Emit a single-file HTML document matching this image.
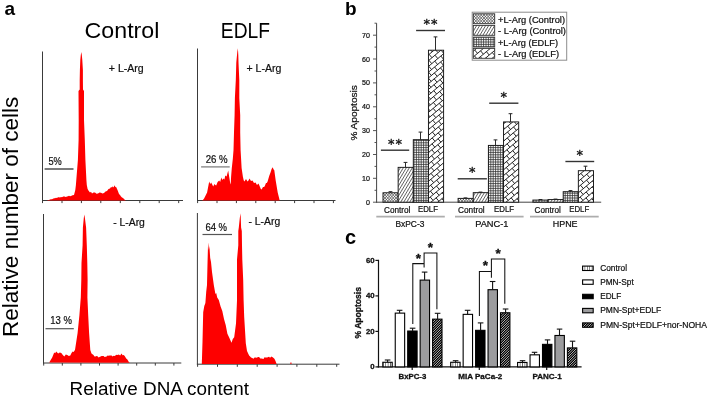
<!DOCTYPE html>
<html lang="en"><head><meta charset="utf-8"><title>Figure</title>
<style>
html,body{margin:0;padding:0;background:#fff;}
body{width:708px;height:397px;overflow:hidden;}
svg{display:block;will-change:transform;font-family:"Liberation Sans",sans-serif;}
</style></head><body>
<svg width="708" height="397" viewBox="0 0 708 397">
<defs>
<pattern id="pX" width="11" height="3" patternUnits="userSpaceOnUse"><rect width="11" height="3" fill="#fff"/><path d="M0.000 0L2.750 3M0.000 3L2.750 0M2.750 0L5.500 3M2.750 3L5.500 0M5.500 0L8.250 3M5.500 3L8.250 0M8.250 0L11.000 3M8.250 3L11.000 0" stroke="#333" stroke-width="0.65"/></pattern>
<pattern id="pD" width="6" height="5" patternUnits="userSpaceOnUse"><rect width="6" height="5" fill="#fff"/><path d="M-3 5L0 0M0 5L3 0M3 5L6 0M6 5L9 0M-0.3 0.5L0 0M6 5L6.3 4.5" stroke="#2e2e2e" stroke-width="0.75"/></pattern>
<pattern id="pG" width="12" height="12" patternUnits="userSpaceOnUse"><rect width="12" height="12" fill="#fff"/><path d="M0 1.2H12M1.2 0V12M0 3.6H12M3.6 0V12M0 6.0H12M6.0 0V12M0 8.4H12M8.4 0V12M0 10.8H12M10.8 0V12" stroke="#2a2a2a" stroke-width="0.75"/></pattern>
<pattern id="pZ" width="7.9" height="8.8" patternUnits="userSpaceOnUse" patternTransform="rotate(-40) translate(1.5 1)"><rect width="7.9" height="8.8" fill="#fff"/><path d="M0 0.5H7.9M0 4.9H7.9M1 0.5V4.9M4.95 4.9V9.3M4.95 -3.9V0.5" stroke="#1a1a1a" stroke-width="0.95" fill="none"/></pattern>
<pattern id="cV" width="2.4" height="10" x="0.5" patternUnits="userSpaceOnUse"><rect width="2.4" height="10" fill="#fff"/><path d="M1.2 0V10" stroke="#555" stroke-width="0.8"/></pattern>
<pattern id="cH" width="5" height="5" patternUnits="userSpaceOnUse"><rect width="5" height="5" fill="#000"/><path d="M-2.5 2.5L2.5 -2.5M-2.5 5L5 -2.5M0 5L5 0M0 7.5L7.5 0M2.5 7.5L7.5 2.5" stroke="#fff" stroke-width="0.7"/></pattern>
</defs>
<rect x="0" y="0" width="708" height="397" fill="#fff"/>
<g id="panel-a">
<line x1="42.5" y1="51.5" x2="42.5" y2="201.0" stroke="#3a3a3a" stroke-width="1" /><line x1="42.0" y1="200.5" x2="183.0" y2="200.5" stroke="#3a3a3a" stroke-width="1" /><line x1="42.5" y1="200.5" x2="42.5" y2="203.1" stroke="#3a3a3a" stroke-width="1" /><line x1="62.0" y1="200.5" x2="62.0" y2="203.1" stroke="#3a3a3a" stroke-width="1" /><line x1="81.4" y1="200.5" x2="81.4" y2="203.1" stroke="#3a3a3a" stroke-width="1" /><line x1="100.8" y1="200.5" x2="100.8" y2="203.1" stroke="#3a3a3a" stroke-width="1" /><line x1="120.3" y1="200.5" x2="120.3" y2="203.1" stroke="#3a3a3a" stroke-width="1" /><line x1="139.8" y1="200.5" x2="139.8" y2="203.1" stroke="#3a3a3a" stroke-width="1" /><line x1="159.2" y1="200.5" x2="159.2" y2="203.1" stroke="#3a3a3a" stroke-width="1" /><line x1="178.7" y1="200.5" x2="178.7" y2="203.1" stroke="#3a3a3a" stroke-width="1" />
<polygon points="47.0,200.5 48.0,200.0 49.0,199.9 50.0,199.6 51.0,199.3 52.0,199.2 53.0,198.8 54.0,198.3 55.0,198.3 56.0,197.7 57.0,198.0 58.0,197.2 59.0,197.2 60.0,197.5 61.0,197.1 62.0,197.3 63.2,196.6 64.5,196.4 65.8,196.9 67.0,196.6 68.0,196.2 69.0,195.8 70.0,196.2 71.0,196.0 72.5,195.2 74.0,195.0 75.3,190.0 75.9,185.0 76.3,180.0 77.9,160.0 78.6,140.0 78.7,120.0 78.5,91.0 79.7,89.5 79.7,80.0 79.9,70.0 80.3,60.0 80.8,55.0 81.3,52.0 81.8,55.0 82.3,60.0 82.9,70.0 82.9,80.0 83.0,89.5 84.0,91.0 84.0,120.0 84.8,140.0 85.4,160.0 86.4,180.0 86.8,185.0 87.6,189.0 88.6,190.8 90.0,192.5 91.0,191.8 92.0,193.4 93.5,192.4 95.0,192.6 96.5,193.8 98.0,193.6 99.5,192.6 101.0,192.8 102.5,193.4 104.0,193.0 105.5,191.6 107.0,191.0 108.5,189.0 110.0,188.5 111.0,187.0 112.0,187.4 112.8,186.2 113.5,187.6 114.7,185.3 115.4,187.2 116.0,186.8 117.5,190.0 119.0,194.0 120.0,195.1 121.0,196.5 122.0,197.5 123.0,197.9 124.0,199.1 125.0,200.1 126.0,200.5" fill="#fe0000"/>
<line x1="44.6" y1="169.0" x2="73.5" y2="169.0" stroke="#333" stroke-width="1.3" />
<text x="48.5" y="164.8" font-size="10.50" textLength="13.3" lengthAdjust="spacingAndGlyphs" fill="#111" stroke="#111" stroke-width="0.22">5%</text>
<text x="108.8" y="72.0" font-size="10.50" textLength="34.9" lengthAdjust="spacingAndGlyphs" fill="#111" stroke="#111" stroke-width="0.22">+ L-Arg</text>
<line x1="197.5" y1="48.5" x2="197.5" y2="201.0" stroke="#3a3a3a" stroke-width="1" /><line x1="197.0" y1="200.5" x2="335.5" y2="200.5" stroke="#3a3a3a" stroke-width="1" /><line x1="197.6" y1="200.5" x2="197.6" y2="203.1" stroke="#3a3a3a" stroke-width="1" /><line x1="217.0" y1="200.5" x2="217.0" y2="203.1" stroke="#3a3a3a" stroke-width="1" /><line x1="236.4" y1="200.5" x2="236.4" y2="203.1" stroke="#3a3a3a" stroke-width="1" /><line x1="255.8" y1="200.5" x2="255.8" y2="203.1" stroke="#3a3a3a" stroke-width="1" /><line x1="275.2" y1="200.5" x2="275.2" y2="203.1" stroke="#3a3a3a" stroke-width="1" /><line x1="294.6" y1="200.5" x2="294.6" y2="203.1" stroke="#3a3a3a" stroke-width="1" /><line x1="314.0" y1="200.5" x2="314.0" y2="203.1" stroke="#3a3a3a" stroke-width="1" /><line x1="333.4" y1="200.5" x2="333.4" y2="203.1" stroke="#3a3a3a" stroke-width="1" />
<polygon points="202.1,200.6 203.1,199.7 204.1,198.5 207.1,192.5 209.2,181.4 210.2,184.0 211.2,182.4 213.2,186.5 214.5,184.0 215.3,185.1 216.2,185.4 217.6,182.0 219.2,180.4 220.2,182.0 221.3,177.4 222.3,180.0 223.3,178.4 224.4,179.5 225.3,175.4 226.6,176.5 228.2,170.6 229.3,177.4 230.2,183.0 230.7,184.6 231.1,176.7 231.8,168.0 232.8,159.0 233.5,150.3 234.0,132.6 234.6,115.0 234.9,97.9 235.8,80.3 236.3,62.6 237.3,52.0 237.9,48.2 238.3,55.0 238.5,62.6 239.3,80.3 239.3,97.9 240.2,115.0 240.2,132.6 240.6,150.3 241.1,159.0 241.6,168.0 242.9,176.7 243.7,180.3 244.4,181.4 246.0,179.0 247.5,181.4 248.5,180.4 249.5,178.4 251.0,181.0 252.5,180.4 254.0,183.0 255.5,182.4 257.0,185.0 258.5,183.4 260.0,187.0 260.8,189.0 261.6,189.5 263.0,187.0 263.8,187.1 264.6,186.5 266.0,183.0 266.8,182.9 267.6,181.4 269.2,176.0 270.6,172.3 271.6,169.0 272.7,167.3 273.6,169.5 274.3,170.3 275.7,180.4 277.7,192.5 279.7,200.5" fill="#fe0000"/>
<line x1="201.1" y1="166.9" x2="229.7" y2="166.9" stroke="#777" stroke-width="1.2" />
<text x="205.7" y="162.7" font-size="10.50" textLength="22.0" lengthAdjust="spacingAndGlyphs" fill="#111" stroke="#111" stroke-width="0.22">26 %</text>
<text x="246.5" y="72.0" font-size="10.50" textLength="34.9" lengthAdjust="spacingAndGlyphs" fill="#111" stroke="#111" stroke-width="0.22">+ L-Arg</text>
<line x1="43.5" y1="214.0" x2="43.5" y2="363.5" stroke="#3a3a3a" stroke-width="1" /><line x1="43.0" y1="363.0" x2="181.3" y2="363.0" stroke="#3a3a3a" stroke-width="1" /><line x1="43.7" y1="363.0" x2="43.7" y2="365.6" stroke="#3a3a3a" stroke-width="1" /><line x1="62.3" y1="363.0" x2="62.3" y2="365.6" stroke="#3a3a3a" stroke-width="1" /><line x1="80.9" y1="363.0" x2="80.9" y2="365.6" stroke="#3a3a3a" stroke-width="1" /><line x1="99.5" y1="363.0" x2="99.5" y2="365.6" stroke="#3a3a3a" stroke-width="1" /><line x1="118.1" y1="363.0" x2="118.1" y2="365.6" stroke="#3a3a3a" stroke-width="1" /><line x1="136.7" y1="363.0" x2="136.7" y2="365.6" stroke="#3a3a3a" stroke-width="1" /><line x1="155.3" y1="363.0" x2="155.3" y2="365.6" stroke="#3a3a3a" stroke-width="1" /><line x1="173.9" y1="363.0" x2="173.9" y2="365.6" stroke="#3a3a3a" stroke-width="1" />
<polygon points="49.2,362.4 52.2,357.5 54.2,352.5 55.2,353.2 56.2,351.5 57.4,352.8 58.2,353.5 59.8,352.5 61.3,352.9 62.8,355.0 64.3,356.5 65.8,354.6 67.3,354.9 68.8,356.0 70.3,355.5 71.5,353.0 72.7,351.5 73.7,352.0 74.4,350.8 75.0,350.0 77.6,332.9 79.4,315.3 80.8,297.6 81.3,280.0 81.5,263.0 82.6,245.3 82.9,227.6 83.8,218.0 84.3,214.4 84.9,218.0 86.1,227.6 86.8,245.3 87.3,263.0 87.6,280.0 87.4,297.6 88.2,315.3 89.1,332.9 90.3,350.0 91.5,353.5 92.5,354.3 93.5,355.0 94.5,356.5 95.5,356.5 96.5,356.0 97.5,356.2 98.5,357.5 99.5,357.0 100.6,356.4 101.6,356.1 102.6,356.1 103.6,355.9 104.6,357.0 105.6,356.8 106.6,356.5 107.6,355.5 108.6,355.8 109.6,355.6 110.6,355.5 111.6,355.4 112.6,356.6 113.7,355.8 114.7,356.1 115.7,355.3 116.7,354.8 117.7,355.1 118.7,354.5 120.2,355.5 121.5,353.4 122.6,355.2 123.7,355.1 124.7,356.1 126.2,358.6 127.4,359.6 128.5,361.6 129.7,362.8" fill="#fe0000"/>
<line x1="45.5" y1="328.7" x2="73.8" y2="328.7" stroke="#555" stroke-width="1.2" />
<text x="50.2" y="324.3" font-size="10.50" textLength="21.7" lengthAdjust="spacingAndGlyphs" fill="#111" stroke="#111" stroke-width="0.22">13 %</text>
<text x="113.2" y="225.7" font-size="10.50" textLength="31.7" lengthAdjust="spacingAndGlyphs" fill="#111" stroke="#111" stroke-width="0.22">- L-Arg</text>
<line x1="197.4" y1="213.0" x2="197.4" y2="364.7" stroke="#3a3a3a" stroke-width="1" /><line x1="196.9" y1="364.2" x2="339.5" y2="364.2" stroke="#3a3a3a" stroke-width="1" /><line x1="197.6" y1="364.2" x2="197.6" y2="366.8" stroke="#3a3a3a" stroke-width="1" /><line x1="217.5" y1="364.2" x2="217.5" y2="366.8" stroke="#3a3a3a" stroke-width="1" /><line x1="237.3" y1="364.2" x2="237.3" y2="366.8" stroke="#3a3a3a" stroke-width="1" /><line x1="257.2" y1="364.2" x2="257.2" y2="366.8" stroke="#3a3a3a" stroke-width="1" /><line x1="277.1" y1="364.2" x2="277.1" y2="366.8" stroke="#3a3a3a" stroke-width="1" /><line x1="296.9" y1="364.2" x2="296.9" y2="366.8" stroke="#3a3a3a" stroke-width="1" /><line x1="316.8" y1="364.2" x2="316.8" y2="366.8" stroke="#3a3a3a" stroke-width="1" /><line x1="336.7" y1="364.2" x2="336.7" y2="366.8" stroke="#3a3a3a" stroke-width="1" />
<polygon points="201.8,364.0 202.5,341.7 203.2,312.2 204.3,306.0 205.4,303.1 206.2,292.0 207.0,285.0 207.6,260.0 208.1,242.4 208.9,250.0 209.4,246.0 210.2,258.0 211.0,262.0 212.0,272.0 213.8,285.0 215.4,294.0 216.2,293.0 217.2,297.5 218.8,300.0 220.6,306.5 222.3,311.0 224.0,319.0 225.7,325.0 227.4,333.8 229.4,338.0 231.5,342.8 232.8,339.0 234.2,337.2 236.0,323.5 237.0,300.6 237.0,280.0 237.0,259.4 238.3,245.3 238.3,231.0 238.8,227.6 239.8,218.0 240.6,213.2 241.1,227.6 241.8,231.0 242.0,245.3 242.3,259.4 243.2,280.0 243.6,300.0 244.2,317.0 245.8,343.2 247.0,351.0 249.1,355.4 250.1,356.4 251.0,357.6 252.2,357.9 253.5,358.7 254.5,357.5 255.5,357.4 256.8,357.8 258.0,357.1 259.1,357.0 260.3,358.4 261.5,358.6 262.6,358.7 263.5,359.0 264.5,357.3 265.4,357.6 266.3,357.5 267.3,357.5 268.2,357.1 269.1,356.7 270.0,357.8 271.6,356.4 273.0,357.6 274.4,358.7 275.5,361.0 276.6,364.0" fill="#fe0000"/>
<rect x="290.2" y="362.6" width="1.4" height="1.2" fill="#fe0000"/>
<line x1="202.5" y1="234.5" x2="232.0" y2="234.5" stroke="#555" stroke-width="1.2" />
<text x="205.4" y="230.5" font-size="10.50" textLength="21.7" lengthAdjust="spacingAndGlyphs" fill="#111" stroke="#111" stroke-width="0.22">64 %</text>
<text x="248.5" y="225.4" font-size="10.50" textLength="31.7" lengthAdjust="spacingAndGlyphs" fill="#111" stroke="#111" stroke-width="0.22">- L-Arg</text>
<text x="84.6" y="38.1" font-size="22.50" textLength="74.8" lengthAdjust="spacingAndGlyphs" fill="#000" >Control</text>
<text x="220.8" y="38.1" font-size="21.30" textLength="49.2" lengthAdjust="spacingAndGlyphs" fill="#000" >EDLF</text>
<text x="69.6" y="394.8" font-size="18.30" textLength="179.4" lengthAdjust="spacingAndGlyphs" fill="#000" >Relative DNA content</text>
<text x="18.1" y="337.0" font-size="21.30" textLength="240.4" lengthAdjust="spacingAndGlyphs" transform="rotate(-90 18.1 337.0)" fill="#000" >Relative number of cells</text>
<text x="4.6" y="15.4" font-size="19.00" font-weight="bold" fill="#000" >a</text>
</g>
<g id="panel-b">
<text x="345.0" y="15.3" font-size="19.00" font-weight="bold" fill="#000" >b</text>
<line x1="376.6" y1="23.2" x2="376.6" y2="202.7" stroke="#444" stroke-width="1" />
<line x1="373.0" y1="202.2" x2="376.6" y2="202.2" stroke="#444" stroke-width="0.9" />
<line x1="374.5" y1="190.3" x2="376.6" y2="190.3" stroke="#444" stroke-width="0.9" />
<line x1="373.0" y1="178.3" x2="376.6" y2="178.3" stroke="#444" stroke-width="0.9" />
<line x1="374.5" y1="166.4" x2="376.6" y2="166.4" stroke="#444" stroke-width="0.9" />
<line x1="373.0" y1="154.5" x2="376.6" y2="154.5" stroke="#444" stroke-width="0.9" />
<line x1="374.5" y1="142.5" x2="376.6" y2="142.5" stroke="#444" stroke-width="0.9" />
<line x1="373.0" y1="130.6" x2="376.6" y2="130.6" stroke="#444" stroke-width="0.9" />
<line x1="374.5" y1="118.7" x2="376.6" y2="118.7" stroke="#444" stroke-width="0.9" />
<line x1="373.0" y1="106.8" x2="376.6" y2="106.8" stroke="#444" stroke-width="0.9" />
<line x1="374.5" y1="94.8" x2="376.6" y2="94.8" stroke="#444" stroke-width="0.9" />
<line x1="373.0" y1="82.9" x2="376.6" y2="82.9" stroke="#444" stroke-width="0.9" />
<line x1="374.5" y1="71.0" x2="376.6" y2="71.0" stroke="#444" stroke-width="0.9" />
<line x1="373.0" y1="59.0" x2="376.6" y2="59.0" stroke="#444" stroke-width="0.9" />
<line x1="374.5" y1="47.1" x2="376.6" y2="47.1" stroke="#444" stroke-width="0.9" />
<line x1="373.0" y1="35.2" x2="376.6" y2="35.2" stroke="#444" stroke-width="0.9" />
<line x1="374.5" y1="23.2" x2="376.6" y2="23.2" stroke="#444" stroke-width="0.9" />
<text x="370.0" y="204.8" font-size="7.10" text-anchor="end" fill="#111" stroke="#111" stroke-width="0.22">0</text>
<text x="370.0" y="180.9" font-size="7.10" text-anchor="end" fill="#111" stroke="#111" stroke-width="0.22">10</text>
<text x="370.0" y="157.0" font-size="7.10" text-anchor="end" fill="#111" stroke="#111" stroke-width="0.22">20</text>
<text x="370.0" y="133.2" font-size="7.10" text-anchor="end" fill="#111" stroke="#111" stroke-width="0.22">30</text>
<text x="370.0" y="109.3" font-size="7.10" text-anchor="end" fill="#111" stroke="#111" stroke-width="0.22">40</text>
<text x="370.0" y="85.4" font-size="7.10" text-anchor="end" fill="#111" stroke="#111" stroke-width="0.22">50</text>
<text x="370.0" y="61.6" font-size="7.10" text-anchor="end" fill="#111" stroke="#111" stroke-width="0.22">60</text>
<text x="370.0" y="37.7" font-size="7.10" text-anchor="end" fill="#111" stroke="#111" stroke-width="0.22">70</text>
<text x="357.2" y="140.6" font-size="9.80" textLength="55.4" lengthAdjust="spacingAndGlyphs" transform="rotate(-90 357.2 140.6)" fill="#111" stroke="#111" stroke-width="0.22">% Apoptosis</text>
<line x1="376.1" y1="202.2" x2="601.2" y2="202.2" stroke="#444" stroke-width="1" />
<rect x="383.00" y="192.78" width="15.15" height="9.42" fill="url(#pX)" stroke="#151515" stroke-width="0.95"/>
<line x1="390.5" y1="192.8" x2="390.5" y2="191.7" stroke="#222" stroke-width="0.95" />
<line x1="388.6" y1="191.7" x2="392.4" y2="191.7" stroke="#222" stroke-width="1" />
<rect x="398.15" y="167.36" width="15.15" height="34.84" fill="url(#pD)" stroke="#151515" stroke-width="0.95"/>
<line x1="405.5" y1="167.4" x2="405.5" y2="162.4" stroke="#222" stroke-width="0.95" />
<line x1="403.6" y1="162.4" x2="407.4" y2="162.4" stroke="#222" stroke-width="1" />
<rect x="413.30" y="139.69" width="15.15" height="62.51" fill="url(#pG)" stroke="#151515" stroke-width="0.95"/>
<line x1="420.5" y1="139.7" x2="420.5" y2="132.1" stroke="#222" stroke-width="0.95" />
<line x1="418.6" y1="132.1" x2="422.4" y2="132.1" stroke="#222" stroke-width="1" />
<clipPath id="k1"><rect x="428.45" y="50.21" width="15.15" height="151.99"/></clipPath><rect x="428.45" y="50.21" width="15.15" height="151.99" fill="#fff"/><path clip-path="url(#k1)" d="M344.23 114.12L440.06 33.70M423.46 47.63L426.29 51.00M347.05 117.49L442.89 37.07M423.26 53.54L426.09 56.91M429.31 48.46L432.14 51.83M349.88 120.86L445.72 40.44M423.07 59.45L425.89 62.82M429.12 54.37L431.95 57.74M435.17 49.29L438.00 52.66M441.22 44.22L444.05 47.59M352.71 124.23L448.54 43.81M422.87 65.36L425.70 68.73M428.92 60.28L431.75 63.65M434.97 55.20L437.80 58.57M441.02 50.12L443.85 53.50M355.54 127.60L451.37 47.18M422.67 71.27L425.50 74.64M428.72 66.19L431.55 69.56M434.77 61.11L437.60 64.48M440.83 56.03L443.65 59.41M358.37 130.97L454.20 50.55M428.52 72.10L431.35 75.47M434.58 67.02L437.40 70.39M440.63 61.94L443.46 65.31M361.20 134.34L457.03 53.93M428.33 78.01L431.15 81.38M434.38 72.93L437.21 76.30M440.43 67.85L443.26 71.22M446.48 62.78L449.31 66.15M364.02 137.71L459.86 57.30M428.13 83.92L430.96 87.29M434.18 78.84L437.01 82.21M440.23 73.76L443.06 77.13M446.28 68.69L449.11 72.06M366.85 141.08L462.69 60.67M427.93 89.83L430.76 93.20M433.98 84.75L436.81 88.12M440.03 79.67L442.86 83.04M446.09 74.59L448.91 77.97M369.68 144.45L465.51 64.04M427.73 95.74L430.56 99.11M433.79 90.66L436.61 94.03M439.84 85.58L442.67 88.95M445.89 80.50L448.72 83.88M372.51 147.82L468.34 67.41M427.54 101.65L430.36 105.02M433.59 96.57L436.42 99.94M439.64 91.49L442.47 94.86M445.69 86.41L448.52 89.78M375.34 151.19L471.17 70.78M427.34 107.56L430.17 110.93M433.39 102.48L436.22 105.85M439.44 97.40L442.27 100.77M445.49 92.32L448.32 95.69M378.17 154.56L474.00 74.15M427.14 113.47L429.97 116.84M433.19 108.39L436.02 111.76M439.24 103.31L442.07 106.68M445.30 98.23L448.12 101.60M380.99 157.93L476.83 77.52M426.94 119.38L429.77 122.75M432.99 114.30L435.82 117.67M439.05 109.22L441.87 112.59M445.10 104.14L447.93 107.51M383.82 161.30L479.66 80.89M426.75 125.29L429.57 128.66M432.80 120.21L435.63 123.58M438.85 115.13L441.68 118.50M444.90 110.05L447.73 113.42M386.65 164.67L482.48 84.26M426.55 131.20L429.38 134.57M432.60 126.12L435.43 129.49M438.65 121.04L441.48 124.41M444.70 115.96L447.53 119.33M389.48 168.05L485.31 87.63M426.35 137.11L429.18 140.48M432.40 132.03L435.23 135.40M438.45 126.95L441.28 130.32M444.51 121.87L447.33 125.24M392.31 171.42L488.14 91.00M426.15 143.02L428.98 146.39M432.20 137.94L435.03 141.31M438.26 132.86L441.08 136.23M444.31 127.78L447.14 131.15M395.13 174.79L490.97 94.37M425.96 148.93L428.78 152.30M432.01 143.85L434.84 147.22M438.06 138.77L440.89 142.14M444.11 133.69L446.94 137.06M397.96 178.16L493.80 97.74M425.76 154.83L428.59 158.21M431.81 149.76L434.64 153.13M437.86 144.68L440.69 148.05M443.91 139.60L446.74 142.97M400.79 181.53L496.62 101.11M425.56 160.74L428.39 164.11M431.61 155.67L434.44 159.04M437.66 150.59L440.49 153.96M443.72 145.51L446.54 148.88M403.62 184.90L499.45 104.48M425.36 166.65L428.19 170.02M431.41 161.58L434.24 164.95M437.47 156.50L440.29 159.87M443.52 151.42L446.35 154.79M406.45 188.27L502.28 107.86M425.16 172.56L427.99 175.93M431.22 167.49L434.04 170.86M437.27 162.41L440.10 165.78M443.32 157.33L446.15 160.70M409.28 191.64L505.11 111.23M424.97 178.47L427.80 181.84M431.02 173.40L433.85 176.77M437.07 168.32L439.90 171.69M443.12 163.24L445.95 166.61M412.10 195.01L507.94 114.60M424.77 184.38L427.60 187.75M430.82 179.30L433.65 182.68M436.87 174.23L439.70 177.60M442.92 169.15L445.75 172.52M414.93 198.38L510.77 117.97M424.57 190.29L427.40 193.66M430.62 185.21L433.45 188.58M436.68 180.14L439.50 183.51M442.73 175.06L445.56 178.43M417.76 201.75L513.59 121.34M424.37 196.20L427.20 199.57M430.43 191.12L433.25 194.49M436.48 186.05L439.31 189.42M442.53 180.97L445.36 184.34M420.59 205.12L516.42 124.71M424.18 202.11L427.00 205.48M430.23 197.03L433.06 200.40M436.28 191.96L439.11 195.33M442.33 186.88L445.16 190.25M423.42 208.49L519.25 128.08M430.03 202.94L432.86 206.31M436.08 197.87L438.91 201.24M442.13 192.79L444.96 196.16M426.25 211.86L522.08 131.45M435.88 203.77L438.71 207.15M441.94 198.70L444.76 202.07M429.07 215.23L524.91 134.82M441.74 204.61L444.57 207.98M431.90 218.60L527.74 138.19" stroke="#1a1a1a" stroke-width="0.95" fill="none"/>
<rect x="428.45" y="50.21" width="15.15" height="151.99" fill="none" stroke="#151515" stroke-width="0.95"/>
<line x1="435.5" y1="50.2" x2="435.5" y2="36.9" stroke="#222" stroke-width="0.95" />
<line x1="433.6" y1="36.9" x2="437.4" y2="36.9" stroke="#222" stroke-width="1" />
<line x1="376.3" y1="216.6" x2="444.8" y2="216.6" stroke="#adadad" stroke-width="1.6" />
<text x="395.4" y="227.3" font-size="9.00" textLength="29.0" lengthAdjust="spacingAndGlyphs" fill="#111" stroke="#111" stroke-width="0.22">BxPC-3</text>
<text x="384.0" y="212.8" font-size="8.60" textLength="26.4" lengthAdjust="spacingAndGlyphs" fill="#111" stroke="#111" stroke-width="0.22">Control</text>
<text x="418.0" y="211.9" font-size="8.60" textLength="20.0" lengthAdjust="spacingAndGlyphs" fill="#111" stroke="#111" stroke-width="0.22">EDLF</text>
<rect x="458.10" y="198.38" width="15.15" height="3.82" fill="url(#pX)" stroke="#151515" stroke-width="0.95"/>
<line x1="465.5" y1="198.4" x2="465.5" y2="197.9" stroke="#222" stroke-width="0.95" />
<line x1="463.6" y1="197.9" x2="467.4" y2="197.9" stroke="#222" stroke-width="1" />
<rect x="473.25" y="192.66" width="15.15" height="9.54" fill="url(#pD)" stroke="#151515" stroke-width="0.95"/>
<line x1="480.5" y1="192.7" x2="480.5" y2="192.1" stroke="#222" stroke-width="0.95" />
<line x1="478.6" y1="192.1" x2="482.4" y2="192.1" stroke="#222" stroke-width="1" />
<rect x="488.40" y="145.41" width="15.15" height="56.79" fill="url(#pG)" stroke="#151515" stroke-width="0.95"/>
<line x1="495.5" y1="145.4" x2="495.5" y2="139.9" stroke="#222" stroke-width="0.95" />
<line x1="493.6" y1="139.9" x2="497.4" y2="139.9" stroke="#222" stroke-width="1" />
<clipPath id="k2"><rect x="503.55" y="121.91" width="15.15" height="80.29"/></clipPath><rect x="503.55" y="121.91" width="15.15" height="80.29" fill="#fff"/><path clip-path="url(#k2)" d="M453.27 154.56L513.79 103.77M456.09 157.93L516.62 107.14M502.04 119.38L504.87 122.75M458.92 161.30L519.45 110.51M501.85 125.29L504.67 128.66M507.90 120.21L510.73 123.58M461.75 164.67L522.28 113.89M501.65 131.20L504.48 134.57M507.70 126.12L510.53 129.49M513.75 121.04L516.58 124.41M519.80 115.96L522.63 119.33M464.58 168.05L525.11 117.26M501.45 137.11L504.28 140.48M507.50 132.03L510.33 135.40M513.55 126.95L516.38 130.32M519.61 121.87L522.43 125.24M467.41 171.42L527.93 120.63M501.25 143.02L504.08 146.39M507.30 137.94L510.13 141.31M513.36 132.86L516.18 136.23M519.41 127.78L522.24 131.15M470.23 174.79L530.76 124.00M501.06 148.93L503.88 152.30M507.11 143.85L509.94 147.22M513.16 138.77L515.99 142.14M519.21 133.69L522.04 137.06M473.06 178.16L533.59 127.37M500.86 154.83L503.69 158.21M506.91 149.76L509.74 153.13M512.96 144.68L515.79 148.05M519.01 139.60L521.84 142.97M475.89 181.53L536.42 130.74M500.66 160.74L503.49 164.11M506.71 155.67L509.54 159.04M512.76 150.59L515.59 153.96M518.82 145.51L521.64 148.88M478.72 184.90L539.25 134.11M500.46 166.65L503.29 170.02M506.51 161.58L509.34 164.95M512.57 156.50L515.39 159.87M518.62 151.42L521.45 154.79M481.55 188.27L542.08 137.48M500.26 172.56L503.09 175.93M506.32 167.49L509.14 170.86M512.37 162.41L515.20 165.78M518.42 157.33L521.25 160.70M484.38 191.64L544.90 140.85M500.07 178.47L502.90 181.84M506.12 173.40L508.95 176.77M512.17 168.32L515.00 171.69M518.22 163.24L521.05 166.61M487.20 195.01L547.73 144.22M499.87 184.38L502.70 187.75M505.92 179.30L508.75 182.68M511.97 174.23L514.80 177.60M518.02 169.15L520.85 172.52M490.03 198.38L550.56 147.59M499.67 190.29L502.50 193.66M505.72 185.21L508.55 188.58M511.78 180.14L514.60 183.51M517.83 175.06L520.66 178.43M492.86 201.75L553.39 150.96M499.47 196.20L502.30 199.57M505.53 191.12L508.35 194.49M511.58 186.05L514.41 189.42M517.63 180.97L520.46 184.34M495.69 205.12L556.22 154.33M499.28 202.11L502.10 205.48M505.33 197.03L508.16 200.40M511.38 191.96L514.21 195.33M517.43 186.88L520.26 190.25M498.52 208.49L559.05 157.70M505.13 202.94L507.96 206.31M511.18 197.87L514.01 201.24M517.23 192.79L520.06 196.16M501.35 211.86L561.87 161.07M510.98 203.77L513.81 207.15M517.04 198.70L519.86 202.07M504.17 215.23L564.70 164.44M516.84 204.61L519.67 207.98M507.00 218.60L567.53 167.81" stroke="#1a1a1a" stroke-width="0.95" fill="none"/>
<rect x="503.55" y="121.91" width="15.15" height="80.29" fill="none" stroke="#151515" stroke-width="0.95"/>
<line x1="510.5" y1="121.9" x2="510.5" y2="113.7" stroke="#222" stroke-width="0.95" />
<line x1="508.6" y1="113.7" x2="512.4" y2="113.7" stroke="#222" stroke-width="1" />
<line x1="455.0" y1="216.6" x2="523.6" y2="216.6" stroke="#adadad" stroke-width="1.6" />
<text x="475.2" y="227.3" font-size="9.00" textLength="33.3" lengthAdjust="spacingAndGlyphs" fill="#111" stroke="#111" stroke-width="0.22">PANC-1</text>
<text x="458.0" y="212.8" font-size="8.60" textLength="26.7" lengthAdjust="spacingAndGlyphs" fill="#111" stroke="#111" stroke-width="0.22">Control</text>
<text x="494.0" y="211.9" font-size="8.60" textLength="20.1" lengthAdjust="spacingAndGlyphs" fill="#111" stroke="#111" stroke-width="0.22">EDLF</text>
<rect x="532.90" y="200.05" width="15.15" height="2.15" fill="url(#pX)" stroke="#151515" stroke-width="0.95"/>
<line x1="540.5" y1="200.1" x2="540.5" y2="199.5" stroke="#222" stroke-width="0.95" />
<line x1="538.6" y1="199.5" x2="542.4" y2="199.5" stroke="#222" stroke-width="1" />
<rect x="548.05" y="199.58" width="15.15" height="2.62" fill="url(#pD)" stroke="#151515" stroke-width="0.95"/>
<line x1="555.5" y1="199.6" x2="555.5" y2="199.1" stroke="#222" stroke-width="0.95" />
<line x1="553.6" y1="199.1" x2="557.4" y2="199.1" stroke="#222" stroke-width="1" />
<rect x="563.20" y="191.70" width="15.15" height="10.50" fill="url(#pG)" stroke="#151515" stroke-width="0.95"/>
<line x1="570.5" y1="191.7" x2="570.5" y2="190.6" stroke="#222" stroke-width="0.95" />
<line x1="568.6" y1="190.6" x2="572.4" y2="190.6" stroke="#222" stroke-width="1" />
<clipPath id="k3"><rect x="578.35" y="170.70" width="15.15" height="31.50"/></clipPath><rect x="578.35" y="170.70" width="15.15" height="31.50" fill="#fff"/><path clip-path="url(#k3)" d="M553.52 184.90L590.02 154.27M575.26 166.65L578.09 170.02M556.35 188.27L592.85 157.64M575.06 172.56L577.89 175.93M581.12 167.49L583.94 170.86M559.18 191.64L595.68 161.01M574.87 178.47L577.70 181.84M580.92 173.40L583.75 176.77M586.97 168.32L589.80 171.69M562.00 195.01L598.51 164.38M574.67 184.38L577.50 187.75M580.72 179.30L583.55 182.68M586.77 174.23L589.60 177.60M592.82 169.15L595.65 172.52M564.83 198.38L601.33 167.75M574.47 190.29L577.30 193.66M580.52 185.21L583.35 188.58M586.58 180.14L589.40 183.51M592.63 175.06L595.46 178.43M567.66 201.75L604.16 171.12M574.27 196.20L577.10 199.57M580.33 191.12L583.15 194.49M586.38 186.05L589.21 189.42M592.43 180.97L595.26 184.34M570.49 205.12L606.99 174.49M574.08 202.11L576.90 205.48M580.13 197.03L582.96 200.40M586.18 191.96L589.01 195.33M592.23 186.88L595.06 190.25M573.32 208.49L609.82 177.86M579.93 202.94L582.76 206.31M585.98 197.87L588.81 201.24M592.03 192.79L594.86 196.16M576.15 211.86L612.65 181.23M585.78 203.77L588.61 207.15M591.84 198.70L594.66 202.07M578.97 215.23L615.48 184.60M591.64 204.61L594.47 207.98M581.80 218.60L618.30 187.98" stroke="#1a1a1a" stroke-width="0.95" fill="none"/>
<rect x="578.35" y="170.70" width="15.15" height="31.50" fill="none" stroke="#151515" stroke-width="0.95"/>
<line x1="585.5" y1="170.7" x2="585.5" y2="166.2" stroke="#222" stroke-width="0.95" />
<line x1="583.6" y1="166.2" x2="587.4" y2="166.2" stroke="#222" stroke-width="1" />
<line x1="530.0" y1="216.6" x2="598.7" y2="216.6" stroke="#adadad" stroke-width="1.6" />
<text x="552.7" y="227.3" font-size="9.00" textLength="24.9" lengthAdjust="spacingAndGlyphs" fill="#111" stroke="#111" stroke-width="0.22">HPNE</text>
<text x="534.5" y="212.8" font-size="8.60" textLength="26.3" lengthAdjust="spacingAndGlyphs" fill="#111" stroke="#111" stroke-width="0.22">Control</text>
<text x="569.2" y="211.9" font-size="8.60" textLength="20.0" lengthAdjust="spacingAndGlyphs" fill="#111" stroke="#111" stroke-width="0.22">EDLF</text>
<line x1="380.9" y1="150.2" x2="409.2" y2="150.2" stroke="#333" stroke-width="1.4" /><text x="388.0" y="147.5" font-size="13.00" fill="#111" stroke="#111" stroke-width="0.35" font-family="DejaVu Sans, sans-serif" letter-spacing="1.1">**</text>
<line x1="416.1" y1="30.5" x2="445.0" y2="30.5" stroke="#333" stroke-width="1.4" /><text x="423.5" y="27.8" font-size="13.00" fill="#111" stroke="#111" stroke-width="0.35" font-family="DejaVu Sans, sans-serif" letter-spacing="1.1">**</text>
<line x1="457.7" y1="178.8" x2="486.9" y2="178.8" stroke="#333" stroke-width="1.4" /><text x="469.0" y="176.1" font-size="13.00" fill="#111" stroke="#111" stroke-width="0.35" font-family="DejaVu Sans, sans-serif" letter-spacing="1.1">*</text>
<line x1="489.2" y1="103.2" x2="518.4" y2="103.2" stroke="#333" stroke-width="1.4" /><text x="500.5" y="100.5" font-size="13.00" fill="#111" stroke="#111" stroke-width="0.35" font-family="DejaVu Sans, sans-serif" letter-spacing="1.1">*</text>
<line x1="565.4" y1="161.5" x2="594.2" y2="161.5" stroke="#333" stroke-width="1.4" /><text x="576.5" y="158.8" font-size="13.00" fill="#111" stroke="#111" stroke-width="0.35" font-family="DejaVu Sans, sans-serif" letter-spacing="1.1">*</text>
<rect x="472.2" y="12.2" width="94.5" height="48" fill="#fff" stroke="#8c8c8c" stroke-width="1"/>
<rect x="473.3" y="13.8" width="21.4" height="9.9" fill="url(#pX)" stroke="#333" stroke-width="0.9"/>
<text x="498.0" y="22.8" font-size="9.20" textLength="67.0" lengthAdjust="spacingAndGlyphs" fill="#111" stroke="#111" stroke-width="0.22">+L-Arg (Control)</text>
<rect x="473.3" y="25.4" width="21.4" height="9.9" fill="url(#pD)" stroke="#333" stroke-width="0.9"/>
<text x="498.0" y="34.2" font-size="9.20" textLength="68.0" lengthAdjust="spacingAndGlyphs" fill="#111" stroke="#111" stroke-width="0.22">- L-Arg (Control)</text>
<rect x="473.3" y="37.1" width="21.4" height="9.9" fill="url(#pG)" stroke="#333" stroke-width="0.9"/>
<text x="498.0" y="45.7" font-size="9.20" textLength="60.0" lengthAdjust="spacingAndGlyphs" fill="#111" stroke="#111" stroke-width="0.22">+L-Arg (EDLF)</text>
<clipPath id="k4"><rect x="473.30" y="48.40" width="21.40" height="9.90"/></clipPath><rect x="473.30" y="48.40" width="21.40" height="9.90" fill="#fff"/><path clip-path="url(#k4)" d="M458.08 52.45L487.61 27.66M469.04 43.25L471.87 46.62M460.91 55.82L490.44 31.04M468.84 49.16L471.67 52.53M474.90 44.08L477.72 47.45M463.73 59.19L493.27 34.41M468.65 55.07L471.47 58.44M474.70 49.99L477.53 53.36M480.75 44.91L483.58 48.28M466.56 62.56L496.10 37.78M468.45 60.98L471.28 64.35M474.50 55.90L477.33 59.27M480.55 50.82L483.38 54.19M486.60 45.74L489.43 49.11M469.39 65.93L498.93 41.15M480.35 56.73L483.18 60.10M486.41 51.65L489.23 55.02M492.46 46.58L495.29 49.95M472.22 69.30L501.76 44.52M486.21 57.56L489.04 60.93M492.26 52.49L495.09 55.86M475.05 72.67L504.58 47.89M492.06 58.39L494.89 61.77M477.88 76.04L507.41 51.26M480.70 79.41L510.24 54.63" stroke="#1a1a1a" stroke-width="0.95" fill="none"/>
<rect x="473.3" y="48.4" width="21.4" height="9.9" fill="none" stroke="#333" stroke-width="0.9"/>
<text x="498.0" y="57.2" font-size="9.20" textLength="61.0" lengthAdjust="spacingAndGlyphs" fill="#111" stroke="#111" stroke-width="0.22">- L-Arg (EDLF)</text>
</g>
<g id="panel-c">
<text x="345.0" y="244.2" font-size="20.00" font-weight="bold" fill="#000" >c</text>
<line x1="378.5" y1="259.8" x2="378.5" y2="367.5" stroke="#111" stroke-width="1.2" />
<line x1="377.6" y1="366.9" x2="581.6" y2="366.9" stroke="#111" stroke-width="1.2" />
<line x1="375.4" y1="366.9" x2="378.5" y2="366.9" stroke="#111" stroke-width="1.2" />
<text x="374.6" y="369.4" font-size="7.80" font-weight="bold" text-anchor="end" fill="#111" stroke="#111" stroke-width="0.3">0</text>
<line x1="375.4" y1="331.4" x2="378.5" y2="331.4" stroke="#111" stroke-width="1.2" />
<text x="374.6" y="333.9" font-size="7.80" font-weight="bold" text-anchor="end" fill="#111" stroke="#111" stroke-width="0.3">20</text>
<line x1="375.4" y1="295.9" x2="378.5" y2="295.9" stroke="#111" stroke-width="1.2" />
<text x="374.6" y="298.4" font-size="7.80" font-weight="bold" text-anchor="end" fill="#111" stroke="#111" stroke-width="0.3">40</text>
<line x1="375.4" y1="260.4" x2="378.5" y2="260.4" stroke="#111" stroke-width="1.2" />
<text x="374.6" y="262.9" font-size="7.80" font-weight="bold" text-anchor="end" fill="#111" stroke="#111" stroke-width="0.3">60</text>
<text x="360.6" y="338.5" font-size="8.50" textLength="51.4" lengthAdjust="spacingAndGlyphs" font-weight="bold" transform="rotate(-90 360.6 338.5)" fill="#111" stroke="#111" stroke-width="0.3">% Apoptosis</text>
<rect x="382.80" y="362.28" width="9.40" height="4.62" fill="url(#cV)" stroke="#000" stroke-width="1.1"/>
<line x1="387.6" y1="362.3" x2="387.6" y2="360.0" stroke="#111" stroke-width="1.1" />
<line x1="384.8" y1="360.0" x2="390.4" y2="360.0" stroke="#111" stroke-width="1.1" />
<rect x="395.25" y="313.12" width="9.40" height="53.78" fill="#fff" stroke="#000" stroke-width="1.1"/>
<line x1="399.6" y1="313.1" x2="399.6" y2="310.3" stroke="#111" stroke-width="1.1" />
<line x1="396.8" y1="310.3" x2="402.4" y2="310.3" stroke="#111" stroke-width="1.1" />
<rect x="407.70" y="331.04" width="9.40" height="35.86" fill="#000" stroke="#000" stroke-width="1.1"/>
<line x1="412.6" y1="331.0" x2="412.6" y2="328.2" stroke="#111" stroke-width="1.1" />
<line x1="409.8" y1="328.2" x2="415.4" y2="328.2" stroke="#111" stroke-width="1.1" />
<rect x="420.15" y="280.10" width="9.40" height="86.80" fill="#9c9c9e" stroke="#000" stroke-width="1.1"/>
<line x1="424.6" y1="280.1" x2="424.6" y2="272.1" stroke="#111" stroke-width="1.1" />
<line x1="421.8" y1="272.1" x2="427.4" y2="272.1" stroke="#111" stroke-width="1.1" />
<rect x="432.60" y="319.15" width="9.40" height="47.75" fill="url(#cH)" stroke="#000" stroke-width="1.1"/>
<line x1="437.6" y1="319.2" x2="437.6" y2="313.3" stroke="#111" stroke-width="1.1" />
<line x1="434.8" y1="313.3" x2="440.4" y2="313.3" stroke="#111" stroke-width="1.1" />
<line x1="412.2" y1="366.9" x2="412.2" y2="369.9" stroke="#111" stroke-width="1.2" />
<text x="398.5" y="378.7" font-size="8.00" textLength="27.8" lengthAdjust="spacingAndGlyphs" font-weight="bold" fill="#111" stroke="#111" stroke-width="0.3">BxPC-3</text>
<rect x="450.70" y="362.28" width="9.40" height="4.62" fill="url(#cV)" stroke="#000" stroke-width="1.1"/>
<line x1="455.6" y1="362.3" x2="455.6" y2="360.7" stroke="#111" stroke-width="1.1" />
<line x1="452.8" y1="360.7" x2="458.4" y2="360.7" stroke="#111" stroke-width="1.1" />
<rect x="463.15" y="314.36" width="9.40" height="52.54" fill="#fff" stroke="#000" stroke-width="1.1"/>
<line x1="467.6" y1="314.4" x2="467.6" y2="310.3" stroke="#111" stroke-width="1.1" />
<line x1="464.8" y1="310.3" x2="470.4" y2="310.3" stroke="#111" stroke-width="1.1" />
<rect x="475.60" y="330.33" width="9.40" height="36.56" fill="#000" stroke="#000" stroke-width="1.1"/>
<line x1="480.6" y1="330.3" x2="480.6" y2="322.9" stroke="#111" stroke-width="1.1" />
<line x1="477.8" y1="322.9" x2="483.4" y2="322.9" stroke="#111" stroke-width="1.1" />
<rect x="488.05" y="289.69" width="9.40" height="77.21" fill="#9c9c9e" stroke="#000" stroke-width="1.1"/>
<line x1="492.6" y1="289.7" x2="492.6" y2="281.5" stroke="#111" stroke-width="1.1" />
<line x1="489.8" y1="281.5" x2="495.4" y2="281.5" stroke="#111" stroke-width="1.1" />
<rect x="500.50" y="312.76" width="9.40" height="54.14" fill="url(#cH)" stroke="#000" stroke-width="1.1"/>
<line x1="505.6" y1="312.8" x2="505.6" y2="309.0" stroke="#111" stroke-width="1.1" />
<line x1="502.8" y1="309.0" x2="508.4" y2="309.0" stroke="#111" stroke-width="1.1" />
<line x1="479.3" y1="366.9" x2="479.3" y2="369.9" stroke="#111" stroke-width="1.2" />
<text x="458.3" y="378.7" font-size="8.00" textLength="44.0" lengthAdjust="spacingAndGlyphs" font-weight="bold" fill="#111" stroke="#111" stroke-width="0.3">MIA PaCa-2</text>
<rect x="517.60" y="362.46" width="9.40" height="4.44" fill="url(#cV)" stroke="#000" stroke-width="1.1"/>
<line x1="522.5" y1="362.5" x2="522.5" y2="360.7" stroke="#111" stroke-width="1.1" />
<line x1="519.8" y1="360.7" x2="525.3" y2="360.7" stroke="#111" stroke-width="1.1" />
<rect x="530.05" y="354.83" width="9.40" height="12.07" fill="#fff" stroke="#000" stroke-width="1.1"/>
<line x1="534.5" y1="354.8" x2="534.5" y2="352.3" stroke="#111" stroke-width="1.1" />
<line x1="531.8" y1="352.3" x2="537.3" y2="352.3" stroke="#111" stroke-width="1.1" />
<rect x="542.50" y="344.36" width="9.40" height="22.54" fill="#000" stroke="#000" stroke-width="1.1"/>
<line x1="547.5" y1="344.4" x2="547.5" y2="339.9" stroke="#111" stroke-width="1.1" />
<line x1="544.8" y1="339.9" x2="550.3" y2="339.9" stroke="#111" stroke-width="1.1" />
<rect x="554.95" y="335.48" width="9.40" height="31.42" fill="#9c9c9e" stroke="#000" stroke-width="1.1"/>
<line x1="559.5" y1="335.5" x2="559.5" y2="329.1" stroke="#111" stroke-width="1.1" />
<line x1="556.8" y1="329.1" x2="562.3" y2="329.1" stroke="#111" stroke-width="1.1" />
<rect x="567.40" y="347.91" width="9.40" height="18.99" fill="url(#cH)" stroke="#000" stroke-width="1.1"/>
<line x1="572.5" y1="347.9" x2="572.5" y2="341.2" stroke="#111" stroke-width="1.1" />
<line x1="569.8" y1="341.2" x2="575.3" y2="341.2" stroke="#111" stroke-width="1.1" />
<line x1="546.7" y1="366.9" x2="546.7" y2="369.9" stroke="#111" stroke-width="1.2" />
<text x="532.4" y="378.7" font-size="8.00" textLength="29.3" lengthAdjust="spacingAndGlyphs" font-weight="bold" fill="#111" stroke="#111" stroke-width="0.3">PANC-1</text>
<path d="M412.8 324 V263.6 H424.1 M424.1 267.6 V252.9 H436.9 V309.3" fill="none" stroke="#111" stroke-width="1.05"/>
<path d="M479.4 316 V271.5 H491.4 M491.4 277.8 V258.9 H504.8 V303.7" fill="none" stroke="#111" stroke-width="1.05"/>
<text x="418.4" y="262.9" font-size="13.50" font-weight="bold" text-anchor="middle" fill="#111" stroke="#111" stroke-width="0.3">*</text>
<text x="430.3" y="251.9" font-size="13.50" font-weight="bold" text-anchor="middle" fill="#111" stroke="#111" stroke-width="0.3">*</text>
<text x="485.4" y="270.3" font-size="13.50" font-weight="bold" text-anchor="middle" fill="#111" stroke="#111" stroke-width="0.3">*</text>
<text x="498.2" y="258.4" font-size="13.50" font-weight="bold" text-anchor="middle" fill="#111" stroke="#111" stroke-width="0.3">*</text>
<rect x="582.6" y="266.1" width="10.6" height="4.4" fill="url(#cV)" stroke="#000" stroke-width="1.1"/>
<text x="600.2" y="270.7" font-size="9.00" textLength="26.8" lengthAdjust="spacingAndGlyphs" fill="#111" stroke="#111" stroke-width="0.22">Control</text>
<rect x="582.6" y="279.9" width="10.6" height="4.4" fill="#fff" stroke="#000" stroke-width="1.1"/>
<text x="600.2" y="284.8" font-size="9.00" textLength="33.5" lengthAdjust="spacingAndGlyphs" fill="#111" stroke="#111" stroke-width="0.22">PMN-Spt</text>
<rect x="582.6" y="294.3" width="10.6" height="4.4" fill="#000" stroke="#000" stroke-width="1.1"/>
<text x="600.2" y="299.0" font-size="9.00" textLength="21.0" lengthAdjust="spacingAndGlyphs" fill="#111" stroke="#111" stroke-width="0.22">EDLF</text>
<rect x="582.6" y="308.4" width="10.6" height="4.4" fill="#9c9c9e" stroke="#000" stroke-width="1.1"/>
<text x="600.2" y="313.4" font-size="9.00" textLength="61.0" lengthAdjust="spacingAndGlyphs" fill="#111" stroke="#111" stroke-width="0.22">PMN-Spt+EDLF</text>
<rect x="582.6" y="322.9" width="10.6" height="4.4" fill="url(#cH)" stroke="#000" stroke-width="1.1"/>
<text x="600.2" y="327.6" font-size="9.00" textLength="106.8" lengthAdjust="spacingAndGlyphs" fill="#111" stroke="#111" stroke-width="0.22">PMN-Spt+EDLF+nor-NOHA</text>
</g>
</svg>
</body></html>
